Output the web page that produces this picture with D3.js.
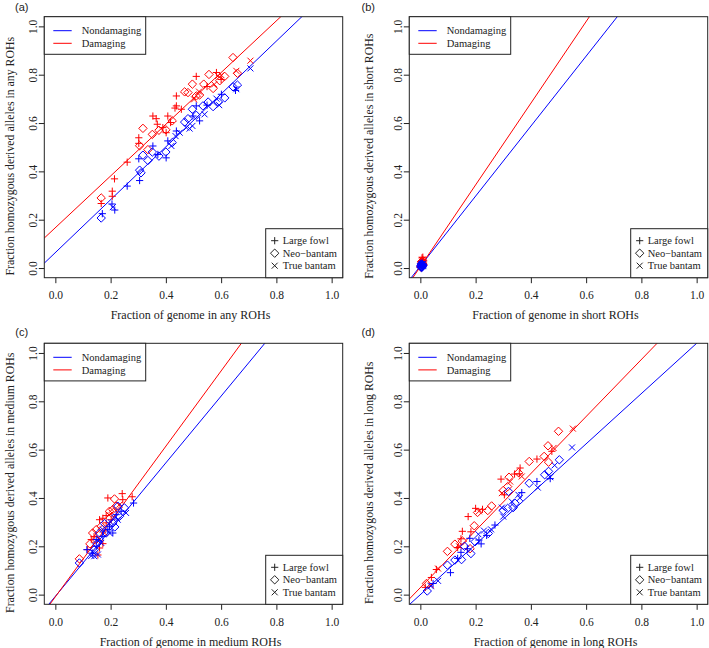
<!DOCTYPE html>
<html><head><meta charset="utf-8">
<script src="https://cdn.jsdelivr.net/npm/d3@7"></script>
<style>body{margin:0;background:#fff}svg{display:block}</style>
</head><body>
<svg id="c" width="709" height="648"></svg>
<script>
// ---------- DATA ----------
const panelLetters = ["(a)", "(b)", "(c)", "(d)"];
const xTitles = ["Fraction of genome in any ROHs", "Fraction of genome in short ROHs", "Fraction of genome in medium ROHs", "Fraction of genome in long ROHs"];
const yTitles = ["Fraction homozygous derived alleles in any ROHs", "Fraction homozygous derived alleles in short ROHs", "Fraction homozygous derived alleles in medium ROHs", "Fraction homozygous derived alleles in long ROHs"];
const tickValues = [0, 0.2, 0.4, 0.6, 0.8, 1.0];
const seriesNames = ["Nondamaging", "Damaging"];
const groupNames = ["Large fowl", "Neo\u2212bantam", "True bantam"];
const groupCodes = ["L", "N", "T"];
// fitted lines [intercept, slope] for nondamaging / damaging in each panel
const nonIntercepts = [0.064, 0.008, -0.007, 0.0];
const nonSlopes = [1.094, 1.448, 1.381, 1.04];
const damIntercepts = [0.167, 0.006, -0.009, 0.029];
const damSlopes = [1.07, 1.69, 1.558, 1.18];

// points [x, y, group]
const aNondamaging = [[0.166,0.207,"N"],[0.17,0.225,"L"],[0.205,0.265,"L"],[0.215,0.24,"L"],[0.208,0.252,"T"],[0.26,0.339,"L"],[0.305,0.362,"L"],[0.305,0.405,"N"],[0.31,0.394,"N"],[0.302,0.452,"L"],[0.317,0.467,"N"],[0.335,0.445,"N"],[0.353,0.505,"L"],[0.351,0.48,"N"],[0.375,0.463,"N"],[0.371,0.47,"L"],[0.4,0.48,"N"],[0.401,0.456,"L"],[0.407,0.526,"L"],[0.42,0.505,"T"],[0.423,0.519,"N"],[0.438,0.567,"L"],[0.435,0.546,"T"],[0.45,0.56,"T"],[0.468,0.604,"N"],[0.48,0.618,"N"],[0.474,0.581,"T"],[0.486,0.577,"T"],[0.496,0.657,"N"],[0.498,0.629,"L"],[0.496,0.588,"T"],[0.51,0.632,"N"],[0.51,0.671,"L"],[0.522,0.609,"L"],[0.534,0.671,"N"],[0.54,0.636,"T"],[0.553,0.687,"N"],[0.549,0.674,"L"],[0.571,0.668,"N"],[0.583,0.701,"T"],[0.593,0.674,"T"],[0.59,0.687,"N"],[0.601,0.719,"L"],[0.613,0.704,"N"],[0.655,0.74,"T"],[0.659,0.757,"N"],[0.652,0.735,"L"],[0.643,0.75,"N"],[0.706,0.826,"T"]];
const aDamaging = [[0.166,0.29,"N"],[0.166,0.267,"L"],[0.206,0.318,"L"],[0.206,0.297,"L"],[0.214,0.369,"L"],[0.26,0.438,"L"],[0.302,0.539,"L"],[0.302,0.516,"L"],[0.305,0.506,"N"],[0.317,0.578,"N"],[0.335,0.49,"N"],[0.351,0.553,"N"],[0.353,0.629,"L"],[0.365,0.618,"L"],[0.369,0.595,"L"],[0.375,0.57,"N"],[0.389,0.581,"L"],[0.4,0.572,"N"],[0.401,0.56,"L"],[0.407,0.629,"L"],[0.417,0.602,"L"],[0.423,0.609,"N"],[0.438,0.712,"L"],[0.438,0.671,"L"],[0.433,0.662,"L"],[0.468,0.729,"N"],[0.48,0.726,"N"],[0.456,0.657,"L"],[0.496,0.761,"N"],[0.51,0.793,"L"],[0.502,0.698,"T"],[0.51,0.712,"N"],[0.522,0.716,"N"],[0.537,0.761,"N"],[0.549,0.751,"L"],[0.556,0.801,"N"],[0.571,0.743,"N"],[0.583,0.809,"L"],[0.589,0.795,"T"],[0.595,0.775,"N"],[0.601,0.798,"T"],[0.613,0.793,"N"],[0.643,0.871,"N"],[0.659,0.806,"N"],[0.655,0.816,"T"],[0.706,0.858,"T"],[0.52,0.73,"T"],[0.6,0.78,"L"],[0.575,0.76,"T"]];
const bNondamaging = [[0.002,0.004,"N"],[0.004,0.006,"N"],[0.006,0.008,"T"],[0.008,0.01,"N"],[0.003,0.012,"L"],[0.005,0.014,"N"],[0.007,0.016,"T"],[0.009,0.012,"N"],[0.004,0.009,"L"],[0.006,0.005,"N"],[0.01,0.018,"T"],[0.002,0.011,"N"],[0.008,0.02,"L"],[0.005,0.002,"N"],[0.011,0.008,"T"],[0.006,0.013,"N"],[0.003,0.017,"N"],[0.009,0.006,"L"],[0.007,0.01,"N"],[0.004,0.015,"T"]];
const bDamaging = [[0.002,0.006,"N"],[0.004,0.012,"L"],[0.006,0.018,"N"],[0.008,0.024,"L"],[0.003,0.02,"T"],[0.005,0.03,"L"],[0.007,0.028,"N"],[0.009,0.035,"L"],[0.01,0.015,"N"],[0.006,0.042,"L"],[0.011,0.025,"T"],[0.004,0.026,"N"],[0.008,0.01,"N"],[0.002,0.016,"L"],[0.012,0.03,"L"],[0.005,0.008,"T"],[0.007,0.022,"N"],[0.009,0.045,"L"],[0.003,0.003,"N"],[0.006,0.034,"T"]];
const cNondamaging = [[0.087,0.131,"N"],[0.114,0.186,"L"],[0.135,0.172,"L"],[0.141,0.159,"T"],[0.154,0.166,"T"],[0.148,0.2,"L"],[0.141,0.186,"N"],[0.16,0.228,"T"],[0.172,0.241,"L"],[0.184,0.255,"N"],[0.196,0.255,"T"],[0.196,0.283,"L"],[0.208,0.297,"N"],[0.214,0.317,"T"],[0.22,0.331,"L"],[0.226,0.31,"T"],[0.232,0.324,"N"],[0.226,0.366,"N"],[0.256,0.338,"T"],[0.283,0.379,"L"],[0.25,0.359,"N"],[0.238,0.345,"L"],[0.16,0.255,"N"],[0.172,0.269,"T"],[0.178,0.294,"N"],[0.148,0.228,"L"],[0.166,0.214,"T"],[0.208,0.255,"L"],[0.137,0.175,"T"],[0.19,0.27,"L"],[0.2,0.3,"T"],[0.215,0.28,"N"],[0.15,0.21,"N"],[0.13,0.16,"T"]];
const cDamaging = [[0.19,0.4,"L"],[0.214,0.396,"N"],[0.242,0.418,"L"],[0.244,0.393,"L"],[0.278,0.405,"L"],[0.16,0.31,"L"],[0.172,0.316,"L"],[0.184,0.327,"L"],[0.196,0.345,"N"],[0.208,0.352,"N"],[0.135,0.255,"N"],[0.148,0.269,"N"],[0.13,0.228,"L"],[0.087,0.148,"N"],[0.16,0.193,"L"],[0.172,0.211,"L"],[0.154,0.164,"L"],[0.117,0.186,"L"],[0.22,0.366,"N"],[0.232,0.372,"T"],[0.166,0.283,"N"],[0.184,0.297,"L"],[0.178,0.255,"T"],[0.148,0.228,"N"],[0.202,0.31,"L"],[0.14,0.24,"L"],[0.17,0.27,"N"],[0.195,0.33,"T"],[0.21,0.34,"N"],[0.125,0.21,"N"]];
const dNondamaging = [[0.549,0.609,"T"],[0.503,0.558,"N"],[0.486,0.535,"T"],[0.464,0.51,"N"],[0.45,0.496,"N"],[0.47,0.486,"T"],[0.47,0.48,"L"],[0.425,0.443,"T"],[0.422,0.468,"L"],[0.394,0.461,"N"],[0.367,0.422,"L"],[0.355,0.413,"T"],[0.343,0.378,"N"],[0.331,0.385,"T"],[0.316,0.357,"N"],[0.336,0.36,"N"],[0.3,0.323,"T"],[0.3,0.348,"N"],[0.319,0.427,"N"],[0.295,0.36,"T"],[0.27,0.288,"L"],[0.256,0.27,"T"],[0.246,0.253,"N"],[0.23,0.265,"T"],[0.212,0.226,"L"],[0.21,0.25,"T"],[0.198,0.219,"N"],[0.179,0.233,"L"],[0.183,0.17,"N"],[0.17,0.19,"L"],[0.16,0.2,"N"],[0.147,0.175,"L"],[0.149,0.145,"N"],[0.135,0.15,"L"],[0.125,0.143,"N"],[0.098,0.122,"N"],[0.109,0.091,"L"],[0.064,0.057,"T"],[0.046,0.046,"L"],[0.038,0.035,"T"],[0.025,0.015,"N"],[0.36,0.4,"T"],[0.24,0.245,"L"],[0.22,0.21,"L"]];
const dDamaging = [[0.552,0.687,"T"],[0.5,0.676,"N"],[0.462,0.616,"N"],[0.464,0.548,"N"],[0.448,0.572,"N"],[0.476,0.593,"L"],[0.482,0.607,"T"],[0.422,0.561,"L"],[0.394,0.551,"N"],[0.361,0.524,"L"],[0.358,0.5,"L"],[0.355,0.505,"N"],[0.367,0.489,"T"],[0.341,0.499,"L"],[0.321,0.486,"N"],[0.325,0.468,"T"],[0.292,0.478,"L"],[0.316,0.447,"N"],[0.3,0.431,"N"],[0.295,0.42,"T"],[0.304,0.413,"L"],[0.258,0.367,"N"],[0.244,0.348,"N"],[0.225,0.353,"L"],[0.2,0.357,"L"],[0.212,0.345,"T"],[0.207,0.34,"N"],[0.173,0.323,"L"],[0.195,0.285,"N"],[0.152,0.262,"L"],[0.183,0.26,"L"],[0.125,0.209,"N"],[0.098,0.179,"N"],[0.147,0.231,"L"],[0.14,0.2,"T"],[0.152,0.222,"N"],[0.135,0.195,"L"],[0.058,0.104,"L"],[0.064,0.108,"T"],[0.04,0.071,"L"],[0.022,0.046,"N"],[0.038,0.039,"T"],[0.018,0.03,"L"],[0.18,0.19,"N"]];

const nonData = [aNondamaging, bNondamaging, cNondamaging, dNondamaging];
const damData = [aDamaging, bDamaging, cDamaging, dDamaging];

// ---------- LAYOUT ----------
const colors = ["#0000FF", "#FF0000"];
const boxes = [
  {l: 44.3, t: 16.7, lab: [21.7, 6.7], ytl: 34},
  {l: 409.3, t: 16.7, lab: [368.3, 6.7], ytl: 40},
  {l: 44.3, t: 343.3, lab: [21.7, 332.3], ytl: 34},
  {l: 409.3, t: 343.3, lab: [368.3, 332.3], ytl: 40}
];
const W = 298.4, H = 261;
const serif = "'Liberation Serif','Times New Roman',serif";
const svg = d3.select("#c");

function symbolPath(g) {
  if (g === "L") return "M-3.6,0H3.6M0,-3.6V3.6";
  if (g === "T") return "M-3,-3L3,3M-3,3L3,-3";
  return "M0,-4.2L4.2,0L0,4.2L-4.2,0Z";
}

boxes.forEach((b, i) => {
  const x = d3.scaleLinear().domain([-0.04, 1.04]).range([b.l, b.l + W]);
  const y = d3.scaleLinear().domain([-0.04, 1.04]).range([b.t + H, b.t]);
  const g = svg.append("g");

  const cid = "clip" + i;
  svg.append("clipPath").attr("id", cid).append("rect")
    .attr("x", b.l).attr("y", b.t).attr("width", W).attr("height", H);

  const xa = g.append("g").attr("transform", `translate(0,${b.t + H})`)
    .call(d3.axisBottom(x).tickValues(tickValues).tickFormat(d3.format(".1f")).tickSize(5.5).tickPadding(8));
  xa.select(".domain").remove();
  xa.selectAll("text").attr("font-family", serif).attr("font-size", 11.5).attr("fill", "#222");
  xa.selectAll("line").attr("stroke", "#222");

  const ya = g.append("g").attr("transform", `translate(${b.l},0)`)
    .call(d3.axisLeft(y).tickValues(tickValues).tickFormat(d3.format(".1f")).tickSize(5.5).tickPadding(0));
  ya.select(".domain").remove();
  ya.selectAll("line").attr("stroke", "#222");
  ya.selectAll("text").attr("font-family", serif).attr("font-size", 11.5).attr("fill", "#222")
    .attr("text-anchor", "middle").attr("x", null).attr("dy", null)
    .attr("transform", "translate(-11,0) rotate(-90)").attr("dominant-baseline", "central");

  const lg = g.append("g").attr("clip-path", `url(#${cid})`);
  [[nonIntercepts, nonSlopes], [damIntercepts, damSlopes]].forEach(([ic, sl], k) => {
    const a = ic[i], s = sl[i];
    lg.append("line")
      .attr("x1", x(-0.1)).attr("y1", y(a + s * -0.1))
      .attr("x2", x(1.2)).attr("y2", y(a + s * 1.2))
      .attr("stroke", colors[k]).attr("stroke-width", 1);
  });

  // points: damaging first, nondamaging on top
  const pg = g.append("g").attr("clip-path", `url(#${cid})`);
  [[damData[i], 1], [nonData[i], 0]].forEach(([pts, k]) => {
    pg.selectAll(null).data(pts).enter().append("path")
      .attr("d", d => symbolPath(d[2]))
      .attr("transform", d => `translate(${x(d[0])},${y(d[1])})`)
      .attr("fill", "none").attr("stroke", colors[k]).attr("stroke-width", 1);
  });

  g.append("rect").attr("x", b.l).attr("y", b.t).attr("width", W).attr("height", H)
    .attr("fill", "none").attr("stroke", "#222").attr("stroke-width", 1);

  const L1 = g.append("g");
  L1.append("rect").attr("x", b.l).attr("y", b.t).attr("width", 101.4).attr("height", 37.6)
    .attr("fill", "#fff").attr("stroke", "#222").attr("stroke-width", 1);
  seriesNames.forEach((n, k) => {
    const yy = b.t + 14 + k * 12.6;
    L1.append("line").attr("x1", b.l + 9).attr("x2", b.l + 27.4).attr("y1", yy).attr("y2", yy)
      .attr("stroke", colors[k]).attr("stroke-width", 1);
    L1.append("text").attr("x", b.l + 37.4).attr("y", yy).attr("dy", "0.35em")
      .attr("font-family", serif).attr("font-size", 10.5).attr("fill", "#222").text(n);
  });

  const L2 = g.append("g");
  const lx = b.l + W - 77, ly = b.t + H - 49;
  L2.append("rect").attr("x", lx).attr("y", ly).attr("width", 77).attr("height", 49)
    .attr("fill", "#fff").attr("stroke", "#222").attr("stroke-width", 1);
  groupNames.forEach((n, k) => {
    const yy = ly + 12 + k * 12.5;
    L2.append("path").attr("d", symbolPath(groupCodes[k])).attr("transform", `translate(${lx + 9},${yy})`)
      .attr("fill", "none").attr("stroke", "#222").attr("stroke-width", 1);
    L2.append("text").attr("x", lx + 17).attr("y", yy).attr("dy", "0.35em")
      .attr("font-family", serif).attr("font-size", 10.5).attr("fill", "#222").text(n);
  });

  g.append("text").attr("x", b.l + W / 2 - 3).attr("y", b.t + H + 37).attr("dy", "0.35em")
    .attr("text-anchor", "middle").attr("font-family", serif).attr("font-size", 12).attr("fill", "#222")
    .text(xTitles[i]);
  g.append("text").attr("transform", `translate(${b.l - b.ytl},${b.t + H / 2 + 9}) rotate(-90)`)
    .attr("dy", "0.35em").attr("text-anchor", "middle").attr("font-family", serif).attr("font-size", 11.8).attr("fill", "#222")
    .text(yTitles[i]);
  g.append("text").attr("x", b.lab[0]).attr("y", b.lab[1]).attr("dy", "0.35em")
    .attr("text-anchor", "middle").attr("font-family", "'Liberation Sans',Arial,sans-serif").attr("font-size", 11).attr("fill", "#222")
    .text(panelLetters[i]);
});
</script>
</body></html>
